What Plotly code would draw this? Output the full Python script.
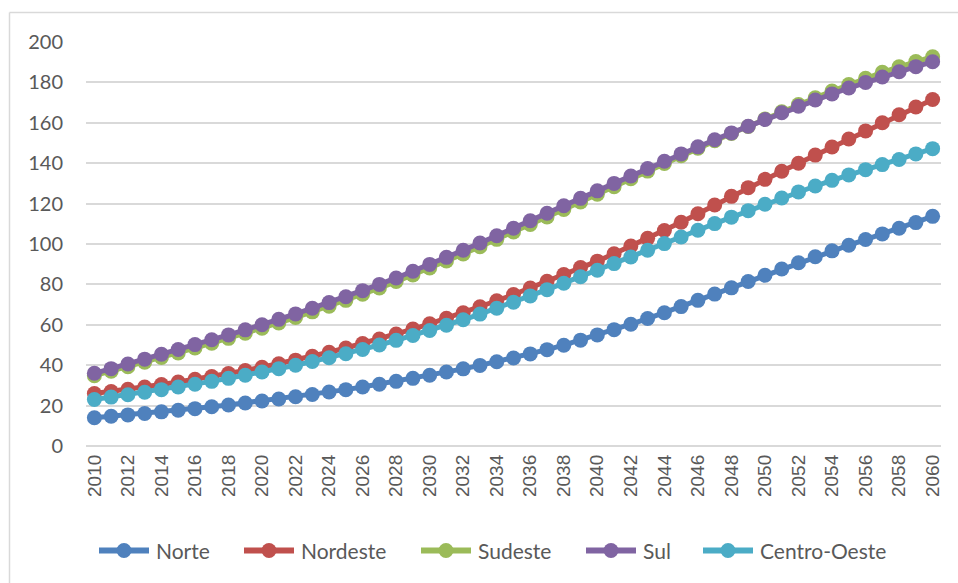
import plotly.graph_objects as go

years = list(range(2010, 2061))

norte = [14.0, 14.7, 15.4, 16.1, 16.9, 17.7, 18.5, 19.4, 20.3, 21.3,
         22.3, 23.3, 24.4, 25.5, 26.7, 27.9, 29.2, 30.6, 32.0, 33.5,
         35.0, 36.6, 38.2, 39.9, 41.7, 43.6, 45.6, 47.7, 49.9, 52.4,
         55.0, 57.6, 60.3, 63.1, 66.0, 69.0, 72.1, 75.2, 78.3, 81.4,
         84.5, 87.6, 90.7, 93.7, 96.6, 99.4, 102.2, 105.0, 107.8, 110.6,
         113.7]

nordeste = [26.0, 27.0, 28.1, 29.2, 30.4, 31.7, 33.0, 34.4, 35.9, 37.4,
            39.0, 40.7, 42.5, 44.4, 46.4, 48.5, 50.7, 53.0, 55.4, 57.9,
            60.5, 63.2, 66.0, 68.9, 71.9, 75.0, 78.2, 81.5, 84.9, 88.4,
            91.5, 95.2, 99.0, 102.8, 106.7, 110.8, 115.0, 119.3, 123.6, 127.9,
            132.0, 136.0, 140.0, 144.0, 148.0, 152.0, 156.0, 160.0, 164.0, 167.8,
            171.5]

sul = [36.0, 38.3, 40.6, 43.0, 45.4, 47.8, 50.2, 52.6, 55.0, 57.5,
       60.0, 62.7, 65.4, 68.2, 71.0, 73.9, 76.9, 80.0, 83.2, 86.5,
       89.9, 93.4, 96.9, 100.5, 104.1, 107.8, 111.5, 115.2, 118.9, 122.6,
       126.3, 130.0, 133.7, 137.4, 141.0, 144.6, 148.1, 151.6, 155.0, 158.3,
       161.6, 165.0, 168.2, 171.3, 174.3, 177.2, 180.0, 182.7, 185.3, 187.8,
       190.2]

sudeste = [34.8, 37.0, 39.2, 41.5, 43.8, 46.1, 48.5, 50.9, 53.3, 55.8,
           58.3, 60.9, 63.6, 66.4, 69.2, 72.1, 75.1, 78.2, 81.4, 84.7,
           88.1, 91.6, 95.1, 98.7, 102.3, 106.0, 109.7, 113.4, 117.1, 120.8,
           124.6, 128.4, 132.3, 136.1, 139.9, 143.7, 147.4, 151.1, 154.7, 158.2,
           161.9, 165.5, 169.0, 172.4, 175.7, 178.9, 182.0, 185.0, 187.7, 190.3,
           192.7]

centro_oeste = [23.0, 24.2, 25.4, 26.6, 27.9, 29.2, 30.6, 32.0, 33.5, 35.0,
                36.6, 38.3, 40.0, 41.8, 43.7, 45.7, 47.8, 50.0, 52.3, 54.7,
                57.2, 59.8, 62.5, 65.3, 68.2, 71.2, 74.3, 77.4, 80.6, 83.8,
                87.0, 90.3, 93.6, 96.9, 100.2, 103.5, 106.8, 110.1, 113.3, 116.5,
                119.7, 122.8, 125.8, 128.7, 131.5, 134.2, 136.8, 139.3, 141.8, 144.6,
                147.2]

series_names = ["Norte", "Nordeste", "Sudeste", "Sul", "Centro-Oeste"]
series_values = [norte, nordeste, sudeste, sul, centro_oeste]
series_colors = ["#4F81BD", "#C0504D", "#9BBB59", "#8064A2", "#4BACC6"]

x_tick_labels = [str(y) for y in years[::2]]
y_tick_values = list(range(0, 201, 20))

FONT = "Lato, Arial, sans-serif"
XFONT = "Liberation Sans, Arial, sans-serif"
GRAY = "#595959"

fig = go.Figure()
for name, vals, col in zip(series_names, series_values, series_colors):
    fig.add_trace(go.Scatter(
        x=years, y=vals, name=name, mode="lines+markers",
        line=dict(color=col, width=5),
        marker=dict(color=col, size=15, symbol="circle"),
        showlegend=False,
    ))

W, H = 958, 583
L, R, T, B = 86, 17, 42, 137
pw, ph = W - L - R, H - T - B

def px_x(p):
    return (p - L) / pw

def px_y(p):
    return (H - B - p) / ph

shapes = [
    dict(type="line", xref="paper", yref="paper",
         x0=px_x(9.5), x1=px_x(960), y0=px_y(12.5), y1=px_y(12.5),
         line=dict(color="#D9D9D9", width=1.5)),
    dict(type="line", xref="paper", yref="paper",
         x0=px_x(9.5), x1=px_x(9.5), y0=px_y(12.5), y1=px_y(590),
         line=dict(color="#D9D9D9", width=1.5)),
]
annotations = []

# custom legend (Excel style: long line with centred marker)
legend_starts = [96, 241, 418, 583, 700]
legend_y = 550.5
for name, col, x0 in zip(series_names, series_colors, legend_starts):
    shapes.append(dict(type="line", xref="paper", yref="paper",
                       x0=px_x(x0 + 3), x1=px_x(x0 + 53),
                       y0=px_y(legend_y), y1=px_y(legend_y),
                       line=dict(color=col, width=6)))
    shapes.append(dict(type="circle", xref="paper", yref="paper",
                       xsizemode="pixel", ysizemode="pixel",
                       xanchor=px_x(x0 + 28), yanchor=px_y(legend_y),
                       x0=-7.5, x1=7.5, y0=-7.5, y1=7.5,
                       fillcolor=col, line=dict(width=0)))
    annotations.append(dict(text=name, xref="paper", yref="paper",
                            x=px_x(x0 + 58), y=px_y(legend_y),
                            xanchor="left", yanchor="middle", showarrow=False,
                            font=dict(family=FONT, size=21, color=GRAY)))

fig.update_layout(
    width=W, height=H,
    margin=dict(l=L, r=R, t=T, b=B),
    paper_bgcolor="white", plot_bgcolor="white",
    font=dict(family=FONT, color=GRAY),
    showlegend=False,
    xaxis=dict(
        range=[2009.5, 2060.5],
        tickmode="array", tickvals=years[::2], ticktext=x_tick_labels,
        tickangle=-90, tickfont=dict(size=19, color=GRAY, family=XFONT),
        showgrid=False, zeroline=False, showline=False, ticks="",
        ticklabelstandoff=4,
    ),
    yaxis=dict(
        range=[0, 200],
        tickmode="array", tickvals=y_tick_values,
        tickfont=dict(size=20, color=GRAY, family=FONT),
        showgrid=True, gridcolor="#D9D9D9", gridwidth=1.5,
        zeroline=True, zerolinecolor="#D9D9D9", zerolinewidth=1.5,
        showline=False, ticks="", ticklabelstandoff=22,
    ),
    shapes=shapes,
    annotations=annotations,
)

fig.write_html("out.html")
